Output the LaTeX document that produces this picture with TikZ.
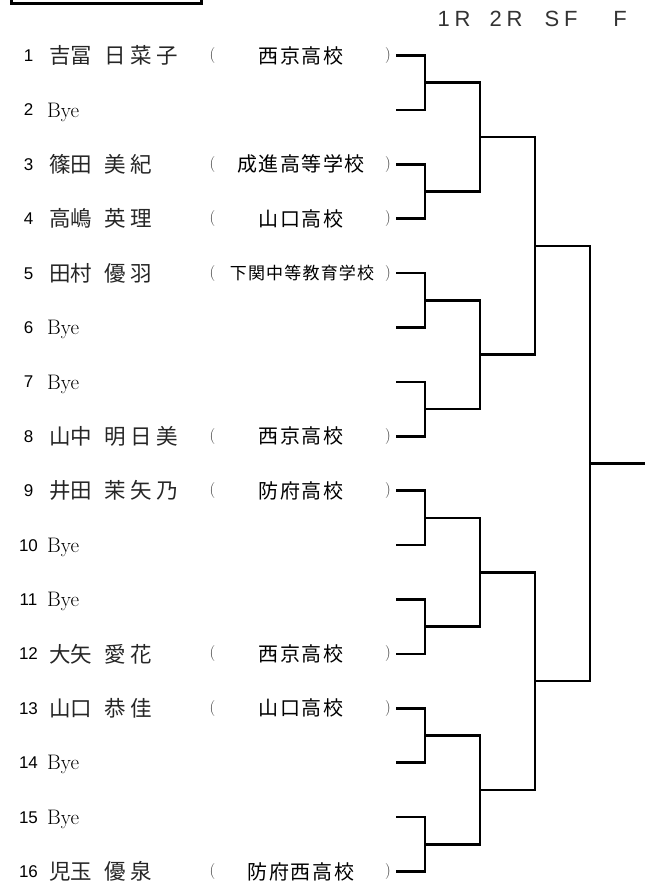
\documentclass[tikz,border=0pt]{standalone}
\usepackage{fontspec}
\newfontfamily\jpfam{Noto Sans CJK JP}
\newfontfamily\jpgiv[LetterSpace=22]{Noto Sans CJK JP}
\newfontfamily\jpsch[LetterSpace=8]{Noto Sans CJK JP}
\newfontfamily\jpschs[LetterSpace=7]{Noto Sans CJK JP}
\newfontfamily\numf{Liberation Sans}
\newfontfamily\hdrf[LetterSpace=22]{Liberation Sans}
\tikzset{
  num/.style={font=\numf\fontsize{17}{17}\selectfont, anchor=base, inner sep=0pt},
  famname/.style={font=\jpfam\fontsize{21.5}{21.5}\selectfont, anchor=base west, inner sep=0pt, text=black!85},
  givname/.style={font=\jpgiv\fontsize{21.5}{21.5}\selectfont, anchor=base west, inner sep=0pt, text=black!85},
  school/.style={font=\jpsch\fontsize{20}{20}\selectfont, anchor=base, inner sep=0pt},
  schoolsmall/.style={font=\jpschs\fontsize{17}{17}\selectfont, anchor=base, inner sep=0pt},
  paren/.style={font=\fontsize{16}{16}\selectfont, anchor=base, inner sep=0pt, text=black!80},
  byetext/.style={font=\fontsize{21}{21}\selectfont, anchor=base west, inner sep=0pt},
  hdr/.style={font=\hdrf\fontsize{22}{22}\selectfont, anchor=center, inner sep=0pt, text=black!80},
  br/.style={line width=2.6pt, black},
}
\begin{document}
\begin{tikzpicture}[x=1pt,y=-1pt]
\useasboundingbox (0,0) rectangle (649,886);
% top-left box (only its lower part is visible)
\coordinate (bx1) at (11.7,-10);
\coordinate (bx2) at (11.7,3.3);
\coordinate (bx3) at (201.7,3.3);
\coordinate (bx4) at (201.7,-10);
\draw[line width=3pt] (bx1) -- (bx2) -- (bx3) -- (bx4);
% header
\node[hdr] (h1) at (454,19) {1R};
\node[hdr] (h2) at (506,19) {2R};
\node[hdr] (h3) at (561,19) {SF};
\node[hdr] (h4) at (620,19) {F};
% numbers
\foreach \i in {1,...,16}{
  \pgfmathsetmacro\yy{55.5+(\i-1)*54.4}
  \node[num] (n\i) at (28.5,\yy+6) {\i};
  \coordinate (e\i) at (396,\yy);
}
% byes
\foreach \i in {2,6,7,10,11,14,15}{
  \pgfmathsetmacro\yy{55.5+(\i-1)*54.4}
  \node[byetext] (b\i) at (47,\yy+7.2) {Bye};
}
% players
\foreach \i/\fa/\gi/\sc in {1/吉冨/日菜子/西京高校, 3/篠田/美紀/成進高等学校, 4/高嶋/英理/山口高校, 8/山中/明日美/西京高校, 9/井田/茉矢乃/防府高校, 12/大矢/愛花/西京高校, 13/山口/恭佳/山口高校, 16/児玉/優泉/防府西高校}{
  \pgfmathsetmacro\yy{55.5+(\i-1)*54.4}
  \node[famname] (f\i) at (49,\yy+8.2) {\fa};
  \node[givname] (g\i) at (104,\yy+8.2) {\gi};
  \node[paren] (l\i) at (212.5,\yy+4) {(};
  \node[school] (s\i) at (301,\yy+7.6) {\sc};
  \node[paren] (r\i) at (388,\yy+4) {)};
}
\pgfmathsetmacro\yy{55.5+4*54.4}
\node[famname] (f5) at (49,\yy+8.2) {田村};
\node[givname] (g5) at (104,\yy+8.2) {優羽};
\node[paren] (l5) at (212.5,\yy+4) {(};
\node[schoolsmall] (s5) at (302,\yy+6.5) {下関中等教育学校};
\node[paren] (r5) at (388,\yy+4) {)};
% bracket junctions
\foreach \k in {1,...,8}{
  \coordinate (a\k) at (425,{55.5+(2*\k-1.5)*54.4});
}
\foreach \k in {1,...,4}{
  \coordinate (b\k) at (480,{55.5+(4*\k-2.5)*54.4});
}
\foreach \k in {1,2}{
  \coordinate (c\k) at (535,{55.5+(8*\k-4.5)*54.4});
}
\coordinate (d) at (590,{55.5+7.5*54.4});
\coordinate (fin) at (645,{55.5+7.5*54.4});
% brackets
\foreach \k in {1,...,8}{
  \pgfmathtruncatemacro\p{2*\k-1}
  \pgfmathtruncatemacro\q{2*\k}
  \draw[br] (e\p) -| (a\k) |- (e\q);
}
\foreach \k in {1,...,4}{
  \pgfmathtruncatemacro\p{2*\k-1}
  \pgfmathtruncatemacro\q{2*\k}
  \draw[br] (a\p) -| (b\k) |- (a\q);
}
\draw[br] (b1) -| (c1) |- (b2);
\draw[br] (b3) -| (c2) |- (b4);
\draw[br] (c1) -| (d) |- (c2);
\draw[br] (d) -- (fin);
\end{tikzpicture}
\end{document}
